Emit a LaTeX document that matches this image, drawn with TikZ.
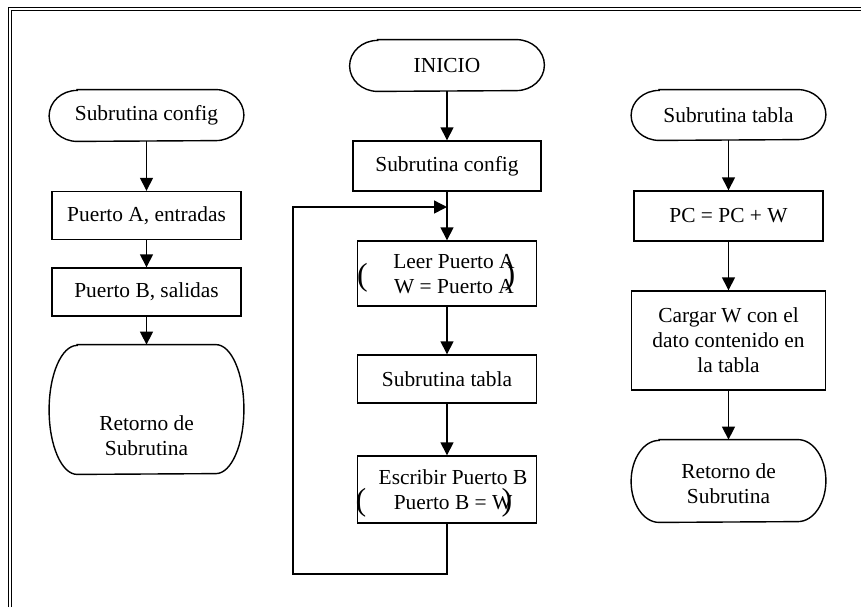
\documentclass[tikz,border=0pt]{standalone}
\usepackage{fontspec}
\setmainfont{Liberation Serif}
\usetikzlibrary{arrows.meta}

\begin{document}
\begin{tikzpicture}[x=0.5pt,y=-0.5pt,
  every node/.style={font=\fontsize{10.7}{12.5}\selectfont,align=center,inner sep=0pt},
  box/.style={draw,line width=0.7pt,minimum width=94.5pt,minimum height=24pt},
  term/.style={minimum width=97pt},
  paren/.style={font=\fontsize{16}{16}\selectfont},
  flow/.style={line width=0.7pt,-{Triangle[width=6.5pt,length=6.5pt]}}]
\useasboundingbox (0,0) rectangle (861,607);

% double frame, top and left
\draw[line width=0.5pt] (8.5,607) -- (8.5,7.5) -- (861,7.5);
\draw[line width=0.5pt] (11.5,607) -- (11.5,10.5) -- (861,10.5);

% configuration subroutine
\node[term,minimum height=25.5pt] (tcfg) at (146.5,115.5) {Subrutina config};
\node[box] (pa) at (146.5,215.5) {Puerto A, entradas};
\node[box] (pb) at (146.5,292) {Puerto B, salidas};
\node[term,minimum height=64.5pt] (ret1) at (146.5,409.5) {};
\node (ret1txt) at (146.5,435.5) {Retorno de\\Subrutina};

% main program
\node[term,minimum height=25.5pt] (ini) at (447,65.5) {INICIO};
\node[box,minimum width=94pt,minimum height=25pt] (cfg) at (447,166) {Subrutina config};
\node[box,minimum width=89.5pt,minimum height=32.5pt] (leer) at (447,273.5) {};
\node (leertxt) at (454,274.5) {Leer Puerto A\\W = Puerto A};
\node[paren] (lp1) at (362.5,278) {(};
\node[paren] (rp1) at (510,277) {)};
\node[box,minimum width=89.5pt] (tab) at (447,379) {Subrutina tabla};
\node[box,minimum width=89.5pt,minimum height=33.5pt] (esc) at (447,489.5) {};
\node (esctxt) at (453,490) {Escribir Puerto B\\Puerto B = W};
\node[paren] (lp2) at (361,503) {(};
\node[paren] (rp2) at (507,503) {)};

% table subroutine
\node[term,minimum height=25pt] (ttab) at (728.5,115) {Subrutina tabla};
\node[box,minimum height=25pt] (pc) at (728.5,216) {PC = PC + W};
\node[box,minimum width=97pt,minimum height=49.5pt] (carg) at (728.5,340.5) {Cargar W con el\\dato contenido en\\la tabla};
\node[term,minimum height=41pt] (ret2) at (728.5,481) {};
\node (ret2txt) at (728.5,484) {Retorno de\\Subrutina};

% terminator outlines
\foreach \n/\ry in {tcfg/12.75, ret1/32.25, ini/12.75, ttab/12.5, ret2/20.5}
  \draw[line width=0.7pt] ([xshift=14pt]\n.north west) -- ([xshift=-14pt]\n.north east)
    arc[start angle=90,end angle=-90,x radius=14pt,y radius=\ry pt]
    -- ([xshift=14pt]\n.south west)
    arc[start angle=270,end angle=90,x radius=14pt,y radius=\ry pt] -- cycle;

\foreach \a/\b in {tcfg/pa, pa/pb, pb/ret1, ini/cfg, cfg/leer, leer/tab, tab/esc, ttab/pc, pc/carg, carg/ret2}
  \draw[flow] (\a.south) -- (\b.north);

% loop back
\coordinate (back) at (293,574);
\coordinate (join) at (447,207);
\draw[flow] (esc.south) |- (back) |- (join);
\end{tikzpicture}
\end{document}
